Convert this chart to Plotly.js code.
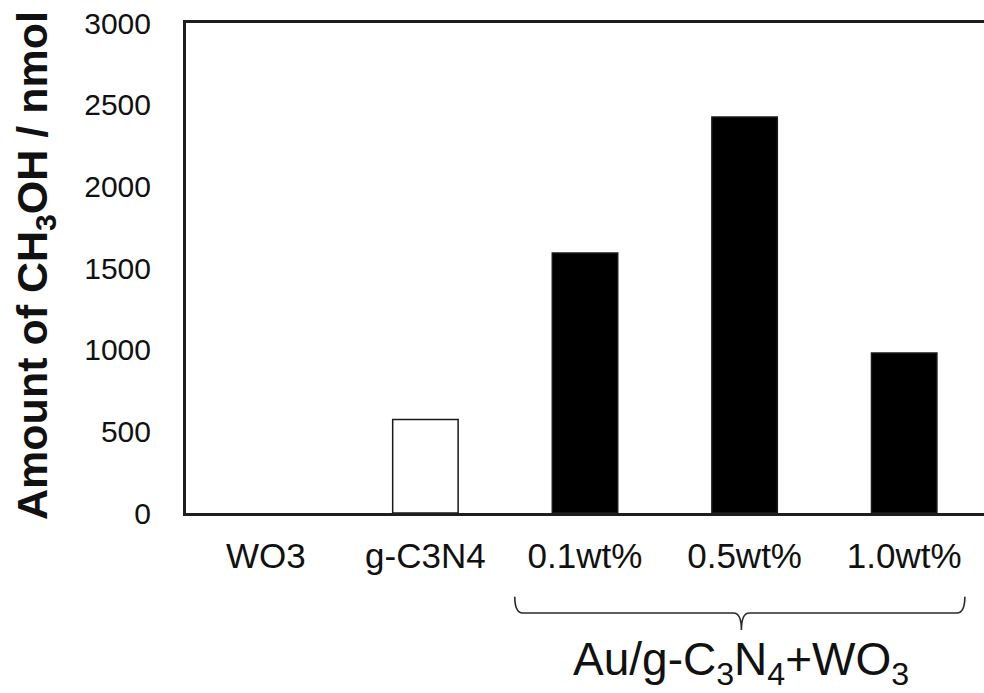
<!DOCTYPE html>
<html>
<head>
<meta charset="utf-8">
<script src="https://cdn.plot.ly/plotly-3.0.1.min.js"></script>
<style>html,body{margin:0;padding:0;background:#fff;}#chart{width:984px;height:693px;}</style>
</head>
<body>
<div id="chart"></div>
<script>
// ---- data ----
const categories = ["WO3", "g-C3N4", "0.1wt%", "0.5wt%", "1.0wt%"];
const amounts = [0, 572, 1592, 2425, 980];
const barFill = ["#000000", "#ffffff", "#000000", "#000000", "#000000"];
const yTickVals = [0, 500, 1000, 1500, 2000, 2500, 3000];
const yTitle = "Amount of CH<sub>3</sub>OH / nmol";
const groupLabel = "Au/g-C<sub>3</sub>N<sub>4</sub>+WO<sub>3</sub>";
const groupMembers = ["0.1wt%", "0.5wt%", "1.0wt%"];

// brace geometry in category-index units
const gStart = categories.indexOf(groupMembers[0]);
const gEnd = categories.indexOf(groupMembers[groupMembers.length - 1]);
const bx0 = gStart - 0.44, bx1 = gEnd + 0.38, bxc = (gStart + gEnd) / 2 - 0.02;
const yTop = -0.171, yMid = -0.204, yTip = -0.239, dx = 0.05;
const bracePath =
  `M ${bx0},${yTop} Q ${bx0},${yMid} ${bx0 + dx},${yMid} L ${bxc - dx},${yMid} ` +
  `Q ${bxc},${yMid} ${bxc},${yTip} Q ${bxc},${yMid} ${bxc + dx},${yMid} ` +
  `L ${bx1 - dx},${yMid} Q ${bx1},${yMid} ${bx1},${yTop}`;

const font = "Liberation Sans, Arial, sans-serif";

const trace = {
  type: "bar",
  x: categories,
  y: amounts,
  width: 0.41,
  marker: {
    color: barFill,
    line: { color: "#1a1a1a", width: amounts.map(v => (v > 0 ? 1.5 : 0)) }
  },
  hoverinfo: "x+y"
};

const layout = {
  width: 984, height: 693,
  margin: { l: 186, r: 0, t: 23, b: 180 },
  paper_bgcolor: "#ffffff", plot_bgcolor: "#ffffff",
  showlegend: false,
  xaxis: {
    type: "category",
    range: [-0.5, 4.5],
    showgrid: false, zeroline: false,
    showline: true, linecolor: "#1e1e1e", linewidth: 3, mirror: true,
    ticks: "",
    ticklabelstandoff: 10,
    tickfont: { family: font, size: 35, color: "#111" }
  },
  yaxis: {
    range: [0, 3000],
    tickvals: yTickVals,
    showgrid: false, zeroline: false,
    showline: true, linecolor: "#1e1e1e", linewidth: 3, mirror: true,
    ticks: "",
    ticklabelstandoff: 26,
    tickfont: { family: font, size: 30, color: "#111" }
  },
  shapes: [{
    type: "path", xref: "x", yref: "paper",
    path: bracePath,
    line: { color: "#2a2a2a", width: 1.6 }
  }],
  annotations: [
    {
      text: yTitle, textangle: -90,
      xref: "paper", yref: "paper", x: -0.19, y: 0.505,
      xanchor: "center", yanchor: "middle", showarrow: false,
      font: { family: font, size: 43, color: "#111", weight: "bold" }
    },
    {
      text: groupLabel,
      xref: "x", yref: "paper", x: (gStart + gEnd) / 2 - 0.02, y: -0.306,
      xanchor: "center", yanchor: "middle", showarrow: false,
      font: { family: font, size: 46, color: "#111" }
    }
  ]
};

Plotly.newPlot("chart", [trace], layout, { staticPlot: true, displayModeBar: false });
</script>
</body>
</html>
